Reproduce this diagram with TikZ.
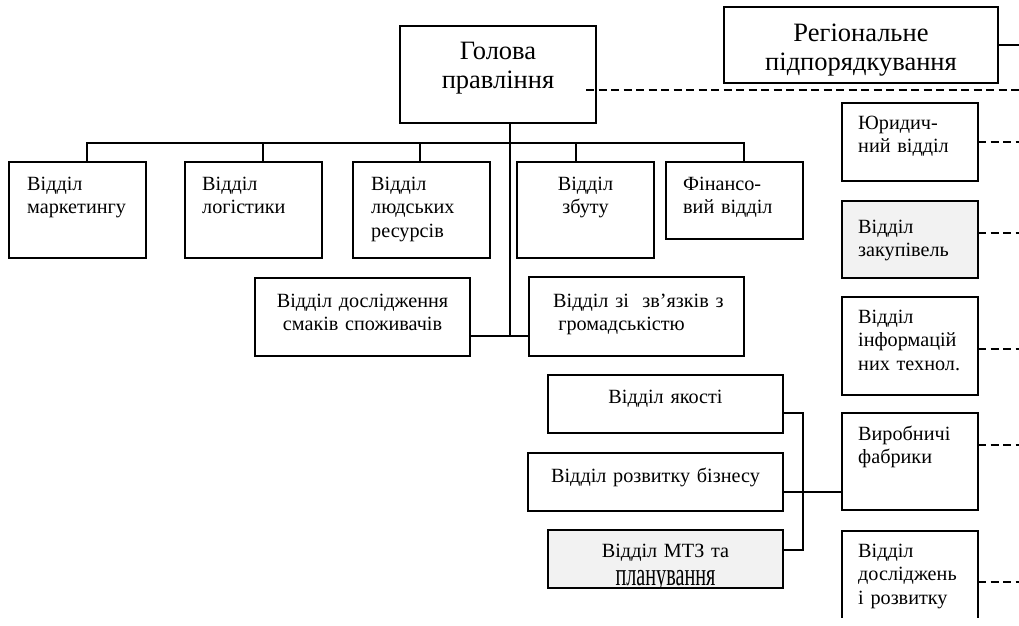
\documentclass[tikz,border=0pt]{standalone}
\usepackage{fontspec}
\setmainfont{Liberation Serif}
\usetikzlibrary{calc}
\newcommand\fsn{\fontsize{20.2}{23.5}\selectfont}
\newcommand\fsb{\fontsize{26.5}{29}\selectfont}
\definecolor{boxgray}{HTML}{F2F2F2}
\tikzset{
  box/.style={draw, line width=1.7pt, anchor=north west, inner sep=0pt, outer sep=0pt},
  conn/.style={line width=1.4pt},
  dl/.style={line width=1.8pt, dash pattern=on 8pt off 4.5pt},
  lt/.style={font=\fsn, anchor=base west, inner sep=0pt, text width=150pt, align=left},
  ct/.style={font=\fsn, anchor=base, inner sep=0pt, align=center},
  bt/.style={font=\fsb, anchor=base, inner sep=0pt, align=center, text width=280pt},
}
\begin{document}
\begin{tikzpicture}[x=1pt,y=-1pt]
\useasboundingbox (0,0) rectangle (1019,625);

% boxes
\node[box, minimum width=196pt, minimum height=97pt] (head) at (400,26) {};
\node[box, minimum width=274pt, minimum height=76pt] (reg) at (724,7) {};
\node[box, minimum width=137pt, minimum height=96pt] (mkt) at (9,162) {};
\node[box, minimum width=137pt, minimum height=96pt] (log) at (185,162) {};
\node[box, minimum width=137pt, minimum height=96pt] (hr) at (353,162) {};
\node[box, minimum width=137pt, minimum height=96pt] (sales) at (517,162) {};
\node[box, minimum width=137pt, minimum height=77pt] (fin) at (666,162) {};
\node[box, minimum width=215pt, minimum height=78pt] (res) at (255,278) {};
\node[box, minimum width=215pt, minimum height=79pt] (pr) at (529,277) {};
\node[box, minimum width=136pt, minimum height=78pt] (legal) at (842,103) {};
\node[box, fill=boxgray, minimum width=136pt, minimum height=77pt] (proc) at (842,201) {};
\node[box, minimum width=136pt, minimum height=98pt] (it) at (842,297) {};
\node[box, minimum width=136pt, minimum height=97pt] (prod) at (842,413) {};
\node[box, minimum width=235pt, minimum height=58pt] (qual) at (548,375) {};
\node[box, minimum width=255pt, minimum height=58pt] (biz) at (528,453) {};
\node[box, fill=boxgray, minimum width=235pt, minimum height=58pt] (mtz) at (548,530) {};
\begin{scope}
  \clip (830,520) rectangle (990,617);
  \node[box, minimum width=136pt, minimum height=120pt] (rd) at (842,531) {};
\end{scope}

% texts
\node[bt] (headt) at (498,59) {Голова\\правління};
\node[bt] (regt) at (861,41) {Регіональне\\підпорядкування};
\node[lt] (mktt) at (27,190) {Відділ\\маркетингу};
\node[lt] (logt) at (202,190) {Відділ\\логістики};
\node[lt] (hrt) at (371,190) {Відділ\\людських\\ресурсів};
\node[ct, text width=137pt] (salest) at (585.5,190) {Відділ\\збуту};
\node[lt] (fint) at (683,190) {Фінансо-\\вий відділ};
\node[ct, text width=215pt] (rest) at (362.5,307) {Відділ дослідження\\смаків споживачів};
\node[lt, text width=200pt] (prt) at (553,307) {Відділ зі\ \ зв’язків з\\\hspace*{0.25em}громадськістю};
\node[lt] (legalt) at (858,129) {Юридич-\\ний відділ};
\node[lt] (proct) at (858,233) {Відділ\\закупівель};
\node[lt] (itt) at (858,323) {Відділ\\інформацій\\них технол.};
\node[lt] (prodt) at (858,440) {Виробничі\\фабрики};
\node[lt] (rdt) at (858,557) {Відділ\\досліджень\\і розвитку};
\node[ct, text width=235pt] (qualt) at (665.5,403) {Відділ якості};
\node[ct, text width=255pt] (bizt) at (655.5,482) {Відділ розвитку бізнесу};
\node[ct, text width=235pt] (mtzt) at (665.5,557) {Відділ МТЗ та};
\begin{scope}
  \clip (550,560) rectangle (780,586);
  \node[ct, text width=235pt] (mtzt2) at (665.5,585) {\scalebox{1}[1.6]{планування}};
\end{scope}

% connectors: top part
\coordinate (d1) at (87,143);
\coordinate (d2) at (263,143);
\coordinate (d3) at (420,143);
\coordinate (d4) at (576,143);
\coordinate (d5) at (744,143);
\coordinate (trunk) at (510,336);
\draw[conn] (d1 |- mkt.north) -- (d1) -- (d5) -- (d5 |- fin.north);
\draw[conn] (d2) -- (d2 |- log.north);
\draw[conn] (d3) -- (d3 |- hr.north);
\draw[conn] (d4) -- (d4 |- sales.north);
\draw[conn] (head.south -| trunk) -- (trunk);
\draw[conn] (res.east |- trunk) -- (pr.west |- trunk);

% lower group
\coordinate (ja) at (803,413);
\coordinate (jb) at (803,550);
\coordinate (jm) at (0,492);
\draw[conn] (qual.east |- ja) -- (ja) -- (jb) -- (mtz.east |- jb);
\draw[conn] (biz.east |- jm) -- (prod.west |- jm);

% right side links
\coordinate (r1) at (1019,45);
\draw[conn] (reg.east |- r1) -- (r1);
\coordinate (h1) at (586,90);
\coordinate (h2) at (1019,90);
\draw[dl] (h1) -- (h2);
\coordinate (e1) at (1019,142);
\coordinate (e2) at (1019,233);
\coordinate (e3) at (1019,349);
\coordinate (e4) at (1019,445);
\coordinate (e5) at (1019,582);
\draw[dl] (legal.east |- e1) -- (e1);
\draw[dl] (proc.east |- e2) -- (e2);
\draw[dl] (it.east |- e3) -- (e3);
\draw[dl] (prod.east |- e4) -- (e4);
\draw[dl] (rd.east |- e5) -- (e5);
\end{tikzpicture}
\end{document}
